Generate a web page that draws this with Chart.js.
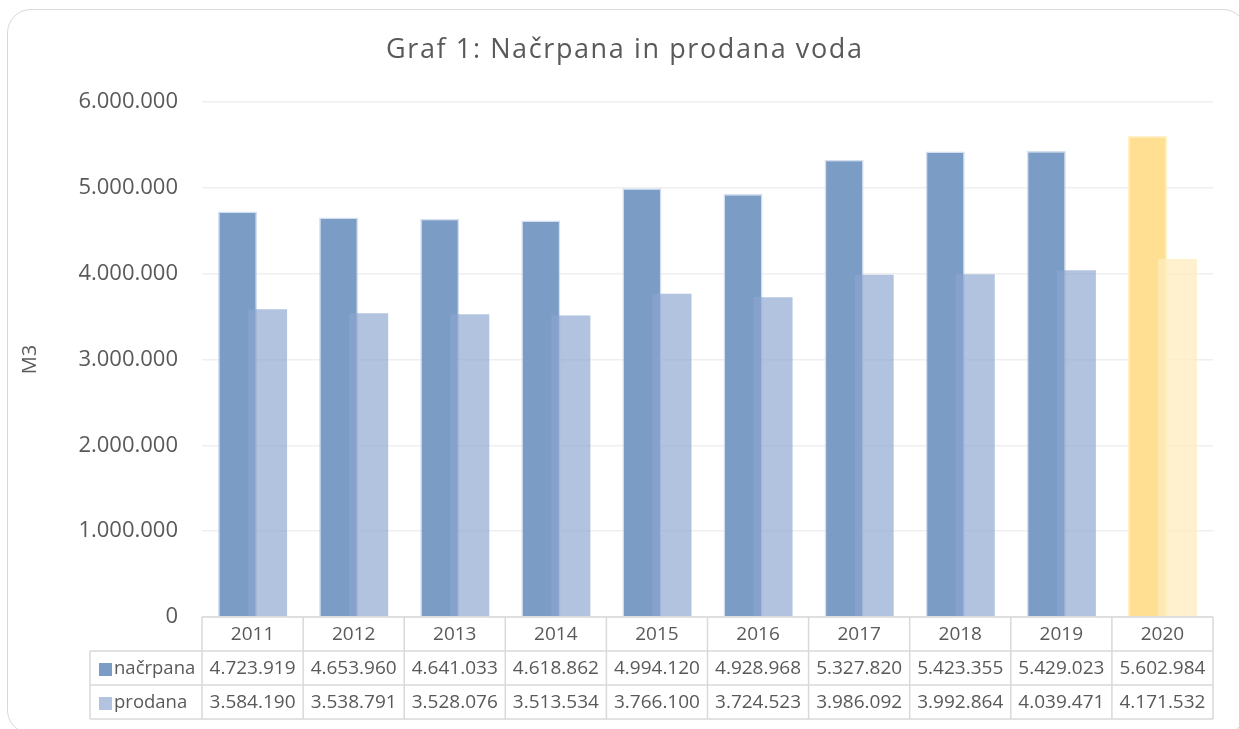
<!DOCTYPE html>
<html>
<head>
<meta charset="utf-8">
<script src="https://cdn.jsdelivr.net/npm/chart.js@4/dist/chart.umd.min.js"></script>
<style>
  html, body { margin: 0; padding: 0; background: #ffffff; }
  #card { position: absolute; left: 7px; top: 9px; width: 1240px; height: 725px; border: 1.5px solid #d9d9d9; border-radius: 24px; box-sizing: border-box; }
  #wrap { position: absolute; left: 0; top: 0; width: 1239px; height: 729px; }
</style>
</head>
<body>
<div id="card"></div>
<div id="wrap"><canvas id="c" width="1239" height="729"></canvas></div>
<script>
const chartTitle = 'Graf 1: Načrpana in prodana voda';
const yAxisTitle = 'M3';
const years = ['2011', '2012', '2013', '2014', '2015', '2016', '2017', '2018', '2019', '2020'];
const seriesNames = ['načrpana', 'prodana'];
const nacrpana = [4723919, 4653960, 4641033, 4618862, 4994120, 4928968, 5327820, 5423355, 5429023, 5602984];
const prodana = [3584190, 3538791, 3528076, 3513534, 3766100, 3724523, 3986092, 3992864, 4039471, 4171532];
const yTicks = [0, 1000000, 2000000, 3000000, 4000000, 5000000, 6000000];

const FONT = '"Open Sans", "Noto Sans", sans-serif';
const TEXT = '#595959';
const LINE = '#d9d9d9';

function fmt(v) {
  return String(Math.round(v)).replace(/\B(?=(\d{3})+(?!\d))/g, '.');
}

const last = years.length - 1;
const c1 = years.map((_, i) => i === last ? '#ffe092' : '#7b9cc4');
const c1b = years.map((_, i) => i === last ? '#fff0c8' : 'rgba(200,215,235,0.8)');
const c2 = years.map((_, i) => i === last ? 'rgba(255,236,190,0.75)' : 'rgba(140,165,207,0.67)');
const legendColors = ['#7b9cc4', '#b2c3df'];

// draw "prodana" above "načrpana" while keeping it on the right
const overlapOrder = {
  id: 'overlapOrder',
  beforeDatasetDraw(chart, args) { if (args.index === 1 && !chart.$manual) return false; },
  afterDatasetsDraw(chart) {
    const meta = chart.getDatasetMeta(1);
    if (meta.hidden) return;
    chart.$manual = true;
    meta.controller.draw();
    chart.$manual = false;
  }
};

const spacedTitle = {
  id: 'spacedTitle',
  afterDraw(chart) {
    const ctx = chart.ctx;
    ctx.save();
    ctx.font = '27px ' + FONT;
    ctx.fillStyle = TEXT;
    ctx.textBaseline = 'middle';
    ctx.textAlign = 'left';
    ctx.letterSpacing = '1.6px';
    const w = ctx.measureText(chartTitle).width - 1.6;
    ctx.fillText(chartTitle, 624 - w / 2, 50);
    ctx.restore();
  }
};

const dataTable = {
  id: 'dataTable',
  afterDraw(chart) {
    const ctx = chart.ctx;
    const x = chart.scales.x;
    const area = chart.chartArea;
    const n = years.length;
    const cw = (area.right - area.left) / n;
    const top = area.bottom;
    const r1 = top + 34, r2 = r1 + 34, r3 = r2 + 34;
    const legLeft = 90;
    ctx.save();
    ctx.strokeStyle = LINE;
    ctx.lineWidth = 1.5;
    ctx.beginPath();
    ctx.moveTo(area.left, top); ctx.lineTo(area.right, top);
    [r1, r2, r3].forEach(y => { ctx.moveTo(legLeft, y); ctx.lineTo(area.right, y); });
    for (let i = 0; i <= n; i++) {
      const px = area.left + i * cw;
      ctx.moveTo(px, top); ctx.lineTo(px, r3);
    }
    ctx.moveTo(legLeft, r1); ctx.lineTo(legLeft, r3);
    ctx.stroke();

    ctx.fillStyle = TEXT;
    ctx.font = '19px ' + FONT;
    ctx.textBaseline = 'middle';
    ctx.textAlign = 'center';
    const rows = [nacrpana, prodana];
    rows.forEach((arr, r) => {
      const cy = (r === 0 ? (r1 + r2) / 2 : (r2 + r3) / 2) + 1;
      arr.forEach((v, i) => {
        ctx.fillText(fmt(v), x.getPixelForValue(i), cy);
      });
    });
    ctx.textAlign = 'left';
    ctx.font = '18.5px ' + FONT;
    seriesNames.forEach((name, r) => {
      const cy = (r === 0 ? (r1 + r2) / 2 : (r2 + r3) / 2) + 1;
      ctx.fillStyle = legendColors[r];
      ctx.fillRect(99, cy - 6, 13, 13);
      ctx.fillStyle = TEXT;
      ctx.fillText(name, 114, cy);
    });
    ctx.restore();
  }
};

new Chart(document.getElementById('c'), {
  type: 'bar',
  data: {
    labels: years,
    datasets: [
      { label: seriesNames[0], data: nacrpana, backgroundColor: c1, borderColor: c1b, borderWidth: 1.5,
        categoryPercentage: 0.594, barPercentage: 1.3 },
      { label: seriesNames[1], data: prodana, backgroundColor: c2, borderWidth: 0,
        categoryPercentage: 0.594, barPercentage: 1.3 }
    ]
  },
  options: {
    responsive: false,
    animation: false,
    layout: { padding: { left: 18, right: 26, top: 102, bottom: 10 } },
    plugins: {
      legend: { display: false },
      tooltip: { enabled: false },
      title: { display: false }
    },
    scales: {
      x: {
        grid: { display: false },
        border: { display: false },
        ticks: { color: TEXT, font: { family: FONT, size: 19 }, padding: -2, maxRotation: 0 },
        afterFit(s) { s.height = 102; }
      },
      y: {
        min: 0, max: 6000000,
        afterBuildTicks(s) { s.ticks = yTicks.map(v => ({ value: v })); },
        grid: { color: '#efefef', lineWidth: 1.5, drawTicks: false },
        border: { display: false },
        ticks: { color: TEXT, font: { family: FONT, size: 22 }, padding: 24, callback: v => fmt(v) },
        title: { display: true, text: yAxisTitle, color: TEXT, font: { family: FONT, size: 20 }, padding: 0 },
        afterFit(s) { s.width = 184; }
      }
    }
  },
  plugins: [overlapOrder, dataTable, spacedTitle]
});
</script>
</body>
</html>
